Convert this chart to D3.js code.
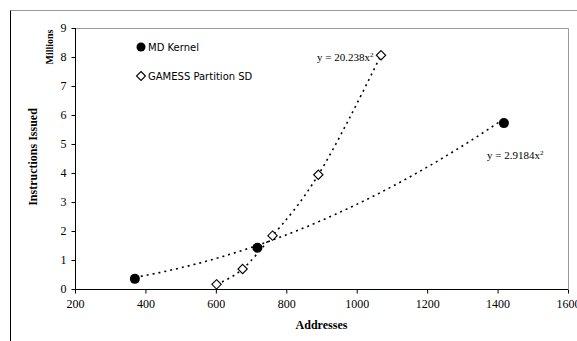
<!doctype html>
<html lang="en">
<head>
  <meta charset="utf-8">
  <script src="https://cdnjs.cloudflare.com/ajax/libs/d3/7.8.5/d3.min.js"></script>
  <style>
    html, body{margin:0px; padding:0px; background:#fff;}
    svg{display:block;}
    .tick text{font-family:"Liberation Serif", serif; font-size:12px; fill:#000;}
    .axisTitle{font-family:"Liberation Serif", serif; font-weight:bold; fill:#000;}
    .legend{font-family:"DejaVu Sans", sans-serif; font-size:10px; fill:#000;}
    .eq{font-family:"Liberation Serif", serif; font-size:11px; fill:#000;}
  </style>
</head>
<body>
<div id="view"></div>
<script>
// data (x = addresses, y = millions of instructions)
var mdX = [370, 718, 1418];
var mdY = [0.35, 1.42, 5.72];
var gamessX = [602, 676, 761, 891, 1069];
var gamessY = [0.16, 0.69, 1.84, 3.94, 8.06];
var xTicks = [200, 400, 600, 800, 1000, 1200, 1400, 1600];
var yTicks = [0, 1, 2, 3, 4, 5, 6, 7, 8, 9];
var seriesNames = ["MD Kernel", "GAMESS Partition SD"];
var eqLabels = ["y = 2.9184x", "y = 20.238x"];
var mdCoef = 2.9184; // MD trendline, x in thousands of addresses

(function(){
var W = 577, H = 341;
var svg = d3.select('#view').append("svg")
    .attr('width', W)
    .attr('height', H);

var pLeft = 75, pRight = 568, pTop = 28, pBottom = 289;
var x = d3.scaleLinear().domain([200, 1600]).range([pLeft, pRight]);
var y = d3.scaleLinear().domain([0, 9]).range([pBottom, pTop]);

// outer chart frame (only top and left visible)
svg.append("line").attr("x1", 10.5).attr("x2", W).attr("y1", 10.5).attr("y2", 10.5)
   .attr("stroke", "#999");
svg.append("line").attr("x1", 10.5).attr("x2", 10.5).attr("y1", 10.5).attr("y2", H)
   .attr("stroke", "#000");

// plot area border: top and right gray
svg.append("path")
   .attr("d", "M" + pLeft + "," + (pTop + 0.5) + "H" + (pRight + 0.5) + "V" + pBottom)
   .attr("fill", "none").attr("stroke", "#999");

// axes
var xAxis = d3.axisBottom(x).tickValues(xTicks).tickSize(4).tickPadding(6).tickFormat(d3.format("d"));
var yAxis = d3.axisLeft(y).tickValues(yTicks).tickSize(4).tickPadding(5);

var gx = svg.append("g").attr("transform", "translate(0," + (pBottom + 0.5) + ")").call(xAxis);
var gy = svg.append("g").attr("transform", "translate(" + (pLeft + 0.5) + ",0)").call(yAxis);
gx.selectAll("path, line").attr("stroke", "#000");
gy.selectAll("path, line").attr("stroke", "#000");
gx.select(".domain").attr("d", "M" + pLeft + ",0H" + pRight);
gy.select(".domain").attr("d", "M0," + pBottom + "V" + pTop);

// axis titles
svg.append("text").attr("class", "axisTitle")
   .attr("x", (pLeft + pRight) / 2).attr("y", 329)
   .attr("text-anchor", "middle").style("font-size", "12px")
   .text("Addresses");
svg.append("text").attr("class", "axisTitle")
   .attr("transform", "translate(37,157) rotate(-90)")
   .attr("text-anchor", "middle").style("font-size", "12px")
   .text("Instructions Issued");
svg.append("text").attr("class", "axisTitle")
   .attr("transform", "translate(53,47) rotate(-90)")
   .attr("text-anchor", "middle").style("font-size", "10px")
   .text("Millions");

// trendlines
var md = mdX.map(function(d, i){ return {X: d, Y: mdY[i]}; });
var gm = gamessX.map(function(d, i){ return {X: d, Y: gamessY[i]}; });

var line = d3.line()
    .x(function(d){ return x(d.X); })
    .y(function(d){ return y(d.Y); });

// MD trendline from its displayed equation, over the data's x range
var mdTrend = d3.range(mdX[0], mdX[mdX.length - 1] + 1, 10).map(function(v){
  return {X: v, Y: mdCoef * (v / 1000) * (v / 1000)};
});

svg.append("path").attr("d", line(mdTrend))
   .attr("fill", "none").attr("stroke", "#000")
   .attr("stroke-width", 1.6).attr("stroke-dasharray", "2,4");
svg.append("path").attr("d", line.curve(d3.curveNatural)(gm))
   .attr("fill", "none").attr("stroke", "#000")
   .attr("stroke-width", 1.6).attr("stroke-dasharray", "2,4");

// markers
svg.selectAll("circle.md").data(md).enter().append("circle")
   .attr("cx", function(d){ return x(d.X); })
   .attr("cy", function(d){ return y(d.Y); })
   .attr("r", 5)
   .attr("fill", "#000");

var diamond = "M0,-4.7L4.7,0L0,4.7L-4.7,0Z";
svg.selectAll("path.gm").data(gm).enter().append("path")
   .attr("transform", function(d){ return "translate(" + x(d.X) + "," + y(d.Y) + ")"; })
   .attr("d", diamond)
   .attr("fill", "#fff").attr("stroke", "#000").attr("stroke-width", 1.1);

// legend
svg.append("circle").attr("cx", 141).attr("cy", 47).attr("r", 4.5).attr("fill", "#000");
svg.append("path").attr("transform", "translate(141,76)").attr("d", "M0,-4.5L4.5,0L0,4.5L-4.5,0Z")
   .attr("fill", "#fff").attr("stroke", "#000").attr("stroke-width", 1.1);
svg.append("text").attr("class", "legend").attr("x", 148).attr("y", 51).text(seriesNames[0]);
svg.append("text").attr("class", "legend").attr("x", 148).attr("y", 80).text(seriesNames[1]);

// trendline equations
var eq1 = svg.append("text").attr("class", "eq").attr("x", 487).attr("y", 159);
eq1.append("tspan").text(eqLabels[0]);
eq1.append("tspan").attr("dy", -4).style("font-size", "7px").text("2");
var eq2 = svg.append("text").attr("class", "eq").attr("x", 317).attr("y", 61);
eq2.append("tspan").text(eqLabels[1]);
eq2.append("tspan").attr("dy", -4).style("font-size", "7px").text("2");
})();
</script>
</body>
</html>
